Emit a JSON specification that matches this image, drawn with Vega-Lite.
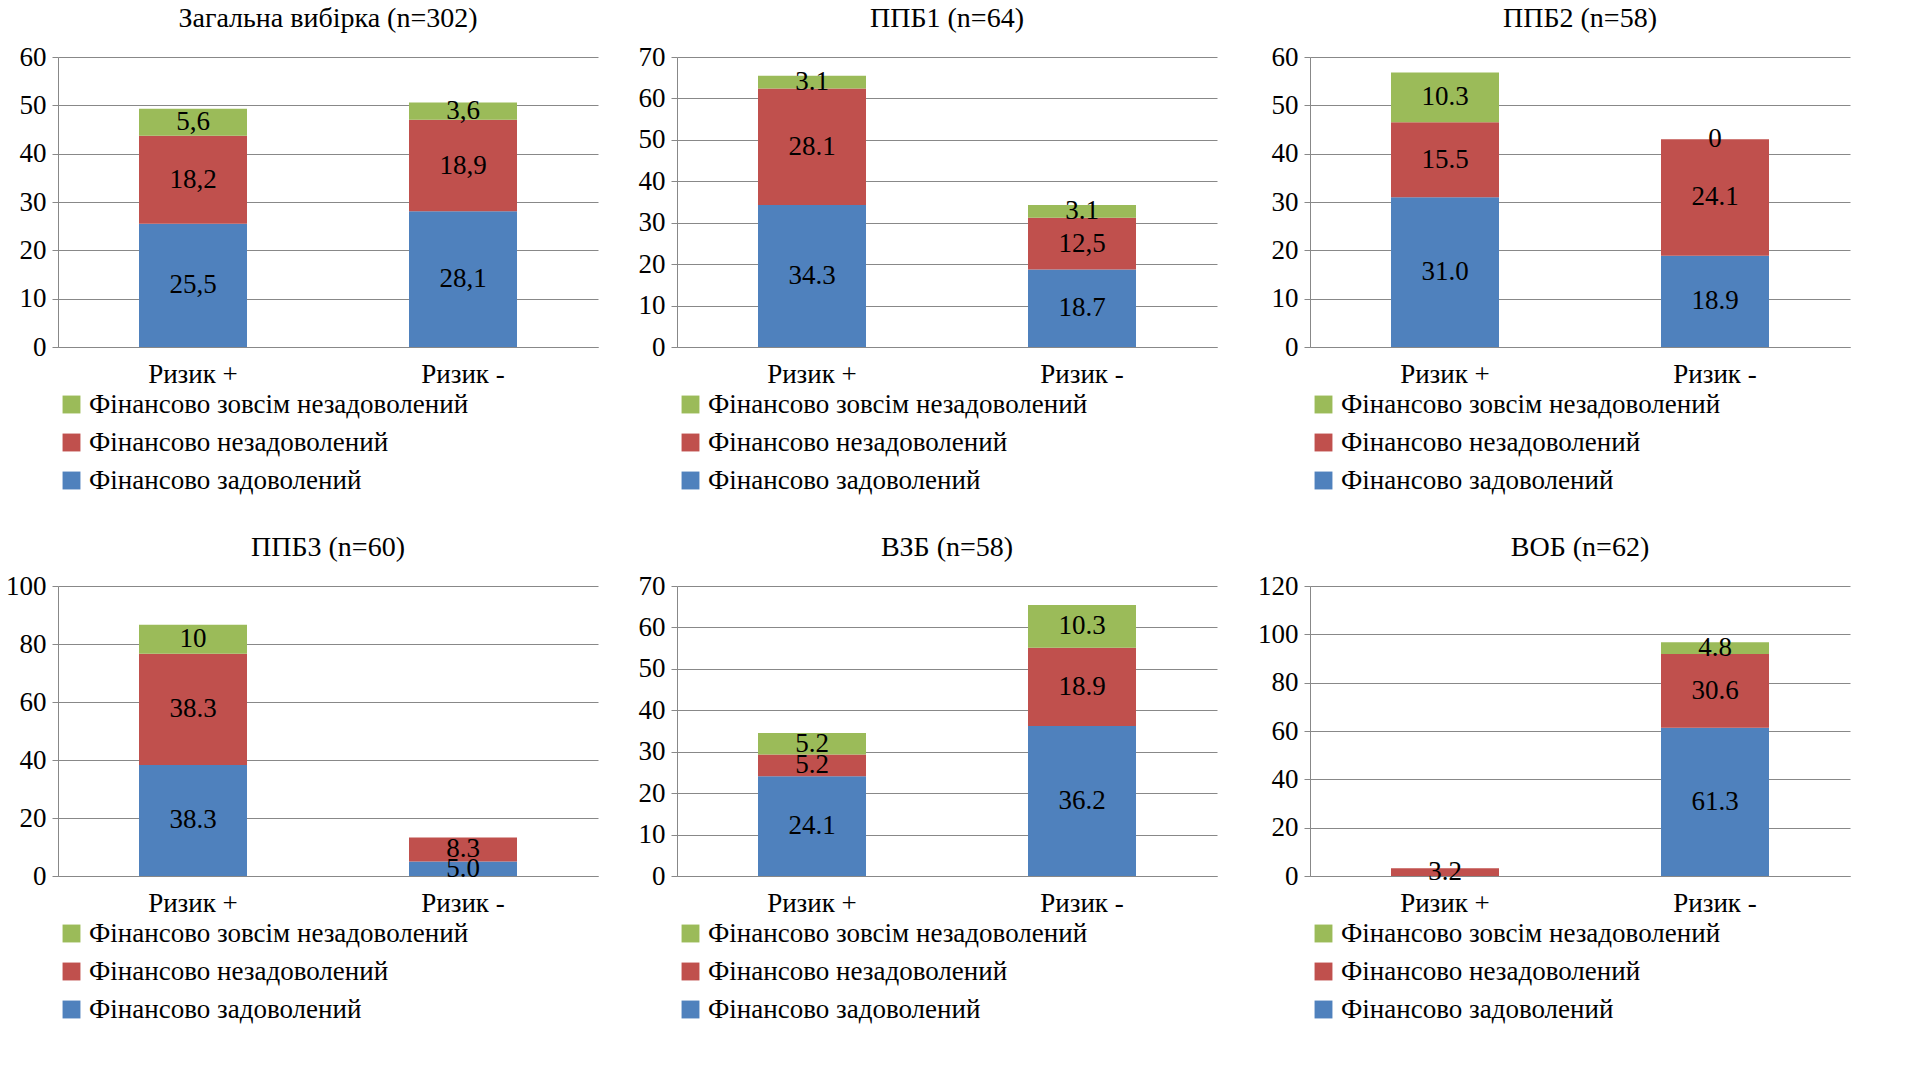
{
  "$schema": "https://vega.github.io/schema/vega-lite/v6.json",
  "data": {"values": [
    {"p": "A", "r": "Ризик +", "g": "Фінансово задоволений", "o": 1, "v": 25.5, "l": "25,5"},
    {"p": "A", "r": "Ризик +", "g": "Фінансово незадоволений", "o": 2, "v": 18.2, "l": "18,2"},
    {"p": "A", "r": "Ризик +", "g": "Фінансово зовсім незадоволений", "o": 3, "v": 5.6, "l": "5,6"},
    {"p": "A", "r": "Ризик -", "g": "Фінансово задоволений", "o": 1, "v": 28.1, "l": "28,1"},
    {"p": "A", "r": "Ризик -", "g": "Фінансово незадоволений", "o": 2, "v": 18.9, "l": "18,9"},
    {"p": "A", "r": "Ризик -", "g": "Фінансово зовсім незадоволений", "o": 3, "v": 3.6, "l": "3,6"},
    {"p": "B", "r": "Ризик +", "g": "Фінансово задоволений", "o": 1, "v": 34.3, "l": "34.3"},
    {"p": "B", "r": "Ризик +", "g": "Фінансово незадоволений", "o": 2, "v": 28.1, "l": "28.1"},
    {"p": "B", "r": "Ризик +", "g": "Фінансово зовсім незадоволений", "o": 3, "v": 3.1, "l": "3.1"},
    {"p": "B", "r": "Ризик -", "g": "Фінансово задоволений", "o": 1, "v": 18.7, "l": "18.7"},
    {"p": "B", "r": "Ризик -", "g": "Фінансово незадоволений", "o": 2, "v": 12.5, "l": "12,5"},
    {"p": "B", "r": "Ризик -", "g": "Фінансово зовсім незадоволений", "o": 3, "v": 3.1, "l": "3.1"},
    {"p": "C", "r": "Ризик +", "g": "Фінансово задоволений", "o": 1, "v": 31.0, "l": "31.0"},
    {"p": "C", "r": "Ризик +", "g": "Фінансово незадоволений", "o": 2, "v": 15.5, "l": "15.5"},
    {"p": "C", "r": "Ризик +", "g": "Фінансово зовсім незадоволений", "o": 3, "v": 10.3, "l": "10.3"},
    {"p": "C", "r": "Ризик -", "g": "Фінансово задоволений", "o": 1, "v": 18.9, "l": "18.9"},
    {"p": "C", "r": "Ризик -", "g": "Фінансово незадоволений", "o": 2, "v": 24.1, "l": "24.1"},
    {"p": "C", "r": "Ризик -", "g": "Фінансово зовсім незадоволений", "o": 3, "v": 0, "l": "0"},
    {"p": "D", "r": "Ризик +", "g": "Фінансово задоволений", "o": 1, "v": 38.3, "l": "38.3"},
    {"p": "D", "r": "Ризик +", "g": "Фінансово незадоволений", "o": 2, "v": 38.3, "l": "38.3"},
    {"p": "D", "r": "Ризик +", "g": "Фінансово зовсім незадоволений", "o": 3, "v": 10, "l": "10"},
    {"p": "D", "r": "Ризик -", "g": "Фінансово задоволений", "o": 1, "v": 5.0, "l": "5.0"},
    {"p": "D", "r": "Ризик -", "g": "Фінансово незадоволений", "o": 2, "v": 8.3, "l": "8.3"},
    {"p": "D", "r": "Ризик -", "g": "Фінансово зовсім незадоволений", "o": 3, "v": 0, "l": ""},
    {"p": "E", "r": "Ризик +", "g": "Фінансово задоволений", "o": 1, "v": 24.1, "l": "24.1"},
    {"p": "E", "r": "Ризик +", "g": "Фінансово незадоволений", "o": 2, "v": 5.2, "l": "5.2"},
    {"p": "E", "r": "Ризик +", "g": "Фінансово зовсім незадоволений", "o": 3, "v": 5.2, "l": "5.2"},
    {"p": "E", "r": "Ризик -", "g": "Фінансово задоволений", "o": 1, "v": 36.2, "l": "36.2"},
    {"p": "E", "r": "Ризик -", "g": "Фінансово незадоволений", "o": 2, "v": 18.9, "l": "18.9"},
    {"p": "E", "r": "Ризик -", "g": "Фінансово зовсім незадоволений", "o": 3, "v": 10.3, "l": "10.3"},
    {"p": "F", "r": "Ризик +", "g": "Фінансово задоволений", "o": 1, "v": 0, "l": ""},
    {"p": "F", "r": "Ризик +", "g": "Фінансово незадоволений", "o": 2, "v": 3.2, "l": "3.2"},
    {"p": "F", "r": "Ризик +", "g": "Фінансово зовсім незадоволений", "o": 3, "v": 0, "l": ""},
    {"p": "F", "r": "Ризик -", "g": "Фінансово задоволений", "o": 1, "v": 61.3, "l": "61.3"},
    {"p": "F", "r": "Ризик -", "g": "Фінансово незадоволений", "o": 2, "v": 30.6, "l": "30.6"},
    {"p": "F", "r": "Ризик -", "g": "Фінансово зовсім незадоволений", "o": 3, "v": 4.8, "l": "4.8"}
  ]},
  "transform": [
    {"stack": "v", "groupby": ["p", "r"], "sort": [{"field": "o"}], "as": ["y0", "y1"]},
    {"calculate": "(datum.y0 + datum.y1) / 2", "as": "mid"}
  ],
  "columns": 3,
  "spacing": 40,
  "concat": [
    {"title": "Загальна вибірка (n=302)", "width": 540, "height": 290,
     "transform": [{"filter": "datum.p == 'A'"}],
     "encoding": {"x": {"field": "r", "type": "nominal", "sort": ["Ризик +", "Ризик -"], "axis": {"title": null, "labelAngle": 0}, "scale": {"paddingInner": 0.6, "paddingOuter": 0.3}}},
     "layer": [
       {"mark": "bar", "encoding": {"y": {"field": "y0", "type": "quantitative", "scale": {"domain": [0, 60]}, "axis": {"title": null, "values": [0, 10, 20, 30, 40, 50, 60]}}, "y2": {"field": "y1"}, "color": {"field": "g", "type": "nominal", "scale": {"domain": ["Фінансово зовсім незадоволений", "Фінансово незадоволений", "Фінансово задоволений"], "range": ["#9BBB59", "#C0504D", "#4F81BD"]}}}},
       {"mark": {"type": "text"}, "encoding": {"y": {"field": "mid", "type": "quantitative", "axis": {"title": null, "values": [0, 10, 20, 30, 40, 50, 60]}}, "text": {"field": "l"}}}
     ]},
    {"title": "ППБ1 (n=64)", "width": 540, "height": 290,
     "transform": [{"filter": "datum.p == 'B'"}],
     "encoding": {"x": {"field": "r", "type": "nominal", "sort": ["Ризик +", "Ризик -"], "axis": {"title": null, "labelAngle": 0}, "scale": {"paddingInner": 0.6, "paddingOuter": 0.3}}},
     "layer": [
       {"mark": "bar", "encoding": {"y": {"field": "y0", "type": "quantitative", "scale": {"domain": [0, 70]}, "axis": {"title": null, "values": [0, 10, 20, 30, 40, 50, 60, 70]}}, "y2": {"field": "y1"}, "color": {"field": "g", "type": "nominal", "scale": {"domain": ["Фінансово зовсім незадоволений", "Фінансово незадоволений", "Фінансово задоволений"], "range": ["#9BBB59", "#C0504D", "#4F81BD"]}}}},
       {"mark": {"type": "text"}, "encoding": {"y": {"field": "mid", "type": "quantitative", "axis": {"title": null, "values": [0, 10, 20, 30, 40, 50, 60, 70]}}, "text": {"field": "l"}}}
     ]},
    {"title": "ППБ2 (n=58)", "width": 540, "height": 290,
     "transform": [{"filter": "datum.p == 'C'"}],
     "encoding": {"x": {"field": "r", "type": "nominal", "sort": ["Ризик +", "Ризик -"], "axis": {"title": null, "labelAngle": 0}, "scale": {"paddingInner": 0.6, "paddingOuter": 0.3}}},
     "layer": [
       {"mark": "bar", "encoding": {"y": {"field": "y0", "type": "quantitative", "scale": {"domain": [0, 60]}, "axis": {"title": null, "values": [0, 10, 20, 30, 40, 50, 60]}}, "y2": {"field": "y1"}, "color": {"field": "g", "type": "nominal", "scale": {"domain": ["Фінансово зовсім незадоволений", "Фінансово незадоволений", "Фінансово задоволений"], "range": ["#9BBB59", "#C0504D", "#4F81BD"]}}}},
       {"mark": {"type": "text"}, "encoding": {"y": {"field": "mid", "type": "quantitative", "axis": {"title": null, "values": [0, 10, 20, 30, 40, 50, 60]}}, "text": {"field": "l"}}}
     ]},
    {"title": "ППБ3 (n=60)", "width": 540, "height": 290,
     "transform": [{"filter": "datum.p == 'D'"}],
     "encoding": {"x": {"field": "r", "type": "nominal", "sort": ["Ризик +", "Ризик -"], "axis": {"title": null, "labelAngle": 0}, "scale": {"paddingInner": 0.6, "paddingOuter": 0.3}}},
     "layer": [
       {"mark": "bar", "encoding": {"y": {"field": "y0", "type": "quantitative", "scale": {"domain": [0, 100]}, "axis": {"title": null, "values": [0, 20, 40, 60, 80, 100]}}, "y2": {"field": "y1"}, "color": {"field": "g", "type": "nominal", "scale": {"domain": ["Фінансово зовсім незадоволений", "Фінансово незадоволений", "Фінансово задоволений"], "range": ["#9BBB59", "#C0504D", "#4F81BD"]}}}},
       {"mark": {"type": "text"}, "encoding": {"y": {"field": "mid", "type": "quantitative", "axis": {"title": null, "values": [0, 20, 40, 60, 80, 100]}}, "text": {"field": "l"}}}
     ]},
    {"title": "ВЗБ (n=58)", "width": 540, "height": 290,
     "transform": [{"filter": "datum.p == 'E'"}],
     "encoding": {"x": {"field": "r", "type": "nominal", "sort": ["Ризик +", "Ризик -"], "axis": {"title": null, "labelAngle": 0}, "scale": {"paddingInner": 0.6, "paddingOuter": 0.3}}},
     "layer": [
       {"mark": "bar", "encoding": {"y": {"field": "y0", "type": "quantitative", "scale": {"domain": [0, 70]}, "axis": {"title": null, "values": [0, 10, 20, 30, 40, 50, 60, 70]}}, "y2": {"field": "y1"}, "color": {"field": "g", "type": "nominal", "scale": {"domain": ["Фінансово зовсім незадоволений", "Фінансово незадоволений", "Фінансово задоволений"], "range": ["#9BBB59", "#C0504D", "#4F81BD"]}}}},
       {"mark": {"type": "text"}, "encoding": {"y": {"field": "mid", "type": "quantitative", "axis": {"title": null, "values": [0, 10, 20, 30, 40, 50, 60, 70]}}, "text": {"field": "l"}}}
     ]},
    {"title": "ВОБ (n=62)", "width": 540, "height": 290,
     "transform": [{"filter": "datum.p == 'F'"}],
     "encoding": {"x": {"field": "r", "type": "nominal", "sort": ["Ризик +", "Ризик -"], "axis": {"title": null, "labelAngle": 0}, "scale": {"paddingInner": 0.6, "paddingOuter": 0.3}}},
     "layer": [
       {"mark": "bar", "encoding": {"y": {"field": "y0", "type": "quantitative", "scale": {"domain": [0, 120]}, "axis": {"title": null, "values": [0, 20, 40, 60, 80, 100, 120]}}, "y2": {"field": "y1"}, "color": {"field": "g", "type": "nominal", "scale": {"domain": ["Фінансово зовсім незадоволений", "Фінансово незадоволений", "Фінансово задоволений"], "range": ["#9BBB59", "#C0504D", "#4F81BD"]}}}},
       {"mark": {"type": "text"}, "encoding": {"y": {"field": "mid", "type": "quantitative", "axis": {"title": null, "values": [0, 20, 40, 60, 80, 100, 120]}}, "text": {"field": "l"}}}
     ]}
  ],
  "resolve": {"scale": {"y": "independent"}, "legend": {"color": "independent"}},
  "config": {
    "font": "Liberation Serif",
    "view": {"stroke": null},
    "title": {"fontSize": 28, "fontWeight": "normal", "color": "black", "offset": 10},
    "axis": {"labelFontSize": 27, "labelColor": "black", "domainColor": "#888", "tickColor": "#888", "labelPadding": 6},
    "axisY": {"gridColor": "#888", "ticks": true, "tickSize": 6},
    "axisX": {"grid": false, "ticks": false, "labelPadding": 14},
    "text": {"fontSize": 27, "color": "black", "baseline": "middle"},
    "legend": {"orient": "bottom", "direction": "vertical", "title": null, "labelFontSize": 27, "labelColor": "black", "symbolType": "square", "symbolSize": 320, "symbolStrokeWidth": 0, "rowPadding": 10, "offset": 4, "labelLimit": 600}
  }
}
